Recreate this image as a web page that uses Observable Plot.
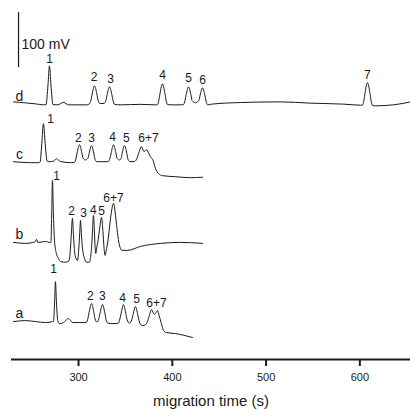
<!DOCTYPE html>
<html><head><meta charset="utf-8">
<script src="https://cdn.jsdelivr.net/npm/d3@7"></script>
<script src="https://cdn.jsdelivr.net/npm/@observablehq/plot@0.6"></script>
<style>
body{margin:0;background:#fff;}
#chart svg{display:block;}
g[aria-label="x-axis label"]{font-size:15px;}
</style></head><body><div id="chart"></div>
<script>
// trace names and vertical offsets (mV)
const traceNames = ["a", "b", "c", "d"];
const traceOffsets = [69, 213, 358, 465];

// [migration time (s), signal relative to baseline (mV)]
const traceA = [[230.6,0],[243.4,1.8],[254.1,0],[264.8,-1.8],[272.2,0],[273.3,0.5],[274.5,36],[275.4,72.7],[276.4,36],[277.8,2],[279.5,-3.6],[284,-1.8],[286.5,2],[289.3,5.5],[291.5,2],[293.5,-1.8],[305,-1.8],[308.3,-1.5],[310,6],[311.3,17],[313.8,32.7],[316.3,17],[317.6,5],[319.6,-1],[321.6,5],[323,16],[325.5,30.9],[328,16],[329.3,4],[331,-2.5],[334,-3.6],[340,-3.6],[342.4,-3],[344.1,5],[345.4,15],[347.9,30.9],[350.4,15],[351.7,4],[354.3,-3],[356.9,4],[358.2,13],[360.7,27.3],[363.2,12],[364.5,2],[366.3,-6],[368.5,-7.3],[371.4,-5.5],[373.5,0],[375.5,11],[377.8,21.8],[379.6,16],[381,12.7],[382.5,16],[384.2,20],[386,10],[387.6,1],[389,-8],[390.6,-16.4],[393.8,-20],[403.4,-21.8],[421.5,-29]];
const traceB = [[230.6,0],[243.4,-1.8],[252,0],[253.6,1],[255.2,5.5],[256.5,0],[260,0.5],[264.8,1.8],[269,0],[270.6,0],[271.4,56],[272.2,112.7],[273.2,50],[274.5,0],[276.3,-20],[278.4,-29],[281,-35],[286,-36],[289.6,-34],[291.2,-15],[292.3,15],[293.5,43.6],[294.7,10],[296,-20],[297.5,-30],[298.9,-32.7],[300.3,-10],[301.2,15],[302.1,40],[303.2,10],[304.5,-15],[306.5,-30],[308.4,-36],[311.5,-36],[313,-25],[314.2,0],[315,25],[315.9,49],[316.8,25],[317.7,-10],[318.4,-20],[319.3,-10],[320.5,0],[322.5,25],[324.5,45.5],[326,20],[327.2,-10],[328.3,-23.6],[329.5,-15],[331.5,5],[333.5,35],[335.5,60],[337.3,71],[339,55],[341,25],[343,0],[344.7,-11],[346.2,-14.5],[352.2,-14.5],[366.1,-7.3],[387.4,-1.8],[408.7,0],[432.2,-1.8]];
const traceC = [[230.6,1.8],[248.8,0],[257.3,0],[259,1],[260.8,35],[262.6,70.9],[264.4,35],[266.5,3],[270.1,1.8],[273.5,3],[276.5,7.3],[279.5,3],[282,1.8],[291.4,0],[295.5,0.5],[297.2,7],[298.5,18],[301,32.7],[303.5,18],[304.8,8],[307.4,5],[310,8],[311.3,17],[313.8,30.9],[316.3,17],[317.6,6],[319.3,2],[322,1.8],[329.8,1.8],[331.8,2],[333.5,8],[334.8,18],[337.3,32.7],[339.8,18],[341.1,8],[343.7,5],[345.5,8],[346.5,17],[349,30.9],[351.5,17],[352.8,6],[354.5,2],[357,1.8],[359.5,2],[361.5,5],[363.2,12],[365,22],[367.1,29.1],[369.8,20],[372.5,23.6],[374.8,17],[376.7,10.9],[379.5,4],[382.1,-10.9],[385.3,-20],[389.5,-23.6],[403.4,-25.5],[419.4,-27.3],[432.2,-26.4]];
const traceD = [[230.6,3.6],[243.4,1.8],[254.1,0],[262.6,-1.8],[265.3,-1.5],[267.4,34],[269,69],[270.6,34],[272.8,-1.5],[277.5,-1.8],[284,2.7],[289.3,-1.8],[308.5,-1.8],[311.5,0],[313.2,6.5],[314.5,18],[317,32.7],[319.5,18],[320.8,6.5],[322.5,1],[325,0.5],[327.5,1],[329.2,6],[330.5,17],[333,30.9],[335.5,17],[336.8,6],[338.5,-1],[344.7,-1.8],[366.1,-0.9],[382.1,-1.8],[384,-1.5],[385.7,7],[387,20],[389.5,36.4],[392,20],[393.3,7],[395,-1.5],[400.2,-1.8],[409.8,-1.8],[411.8,-1.5],[413.5,6],[414.8,17],[417.3,30.9],[419.8,17],[421.1,6],[424.7,2],[428.2,6],[429.7,16],[432.2,29.1],[434.7,16],[436,5],[437.7,-1.8],[442,-0.5],[472.7,2.4],[515.4,3.6],[547.4,1.3],[582.5,-0.5],[600.7,-2.4],[602.6,-2.4],[604.3,6],[605.6,21],[608.1,38.7],[610.6,21],[611.9,6],[613.6,-3],[616,-3.6],[635.9,-1.8],[654,3.6]];

// peak labels: [text, time (s), height above baseline (mV)]
const peaksA = [["1",273.3,94.5],["2",312.7,45.5],["3",325.5,45.5],["4",346.9,41.8],["5",361.8,40],["6+7",383.1,32.7]];
const peaksB = [["1",276.5,120],["2",292.5,56.4],["3",305.3,52.7],["4",315.9,58.2],["5",324.5,56.4],["6+7",337.3,80]];
const peaksC = [["1",270.1,80],["2",299.9,45.5],["3",313.8,45.5],["4",336.2,47.3],["5",351.1,45.5],["6+7",374.6,45.5]];
const peaksD = [["1",269,81.8],["2",316.5,49.1],["3",334.1,45.5],["4",389.5,52.7],["5",417.3,47.3],["6",432.2,43.6],["7",608.1,52.7]];

const xTicks = [300, 400, 500, 600];
const scaleBar = [{t: 236, from: 531, to: 631, label: "100 mV"}];
const traceLabelTime = 237;
const traceLabelHeight = 14;

const traces = [traceA, traceB, traceC, traceD];
const peaks = [peaksA, peaksB, peaksC, peaksD];
const rows = traces.flatMap((tr, i) => tr.map(([t, v]) => ({trace: traceNames[i], t, y: traceOffsets[i] + v})));
const peakRows = peaks.flatMap((pk, i) => pk.map(([text, t, v]) => ({text, t, y: traceOffsets[i] + v})));
const nameRows = traceNames.map((n, i) => ({text: n, t: traceLabelTime, y: traceOffsets[i] + traceLabelHeight}));

const font = "'Liberation Sans', Arial, Helvetica, sans-serif";
const plot = Plot.plot({
  width: 410, height: 409,
  marginLeft: 11, marginRight: 0, marginTop: 0, marginBottom: 50,
  x: {domain: [228.5, 654]},
  y: {domain: [0, 653], axis: null},
  style: {fontFamily: font, background: "white", color: "#1a1a1a"},
  marks: [
    Plot.ruleY([0], {strokeWidth: 2, stroke: "#1a1a1a"}),
    Plot.axisX({ticks: xTicks, tickSize: 7, tickPadding: 7, strokeWidth: 2, fontSize: 11, label: "migration time (s)", labelAnchor: "center", labelArrow: "none", labelOffset: 46}),
    Plot.line(rows, {x: "t", y: "y", z: "trace", curve: "monotone-x", stroke: "#1a1a1a", strokeWidth: 1}),
    Plot.text(peakRows, {x: "t", y: "y", text: "text", fontSize: 12, fill: "#1a1a1a"}),
    Plot.text(nameRows, {x: "t", y: "y", text: "text", fontSize: 14, fill: "#1a1a1a"}),
    Plot.ruleX(scaleBar, {x: "t", y1: "from", y2: "to", stroke: "#1a1a1a", strokeWidth: 1.2}),
    Plot.text(scaleBar, {x: "t", y: d => (d.from + d.to) / 2, text: "label", textAnchor: "start", dx: 3, dy: 4, fontSize: 14, fill: "#1a1a1a"})
  ]
});
document.getElementById("chart").appendChild(plot);
</script></body></html>
